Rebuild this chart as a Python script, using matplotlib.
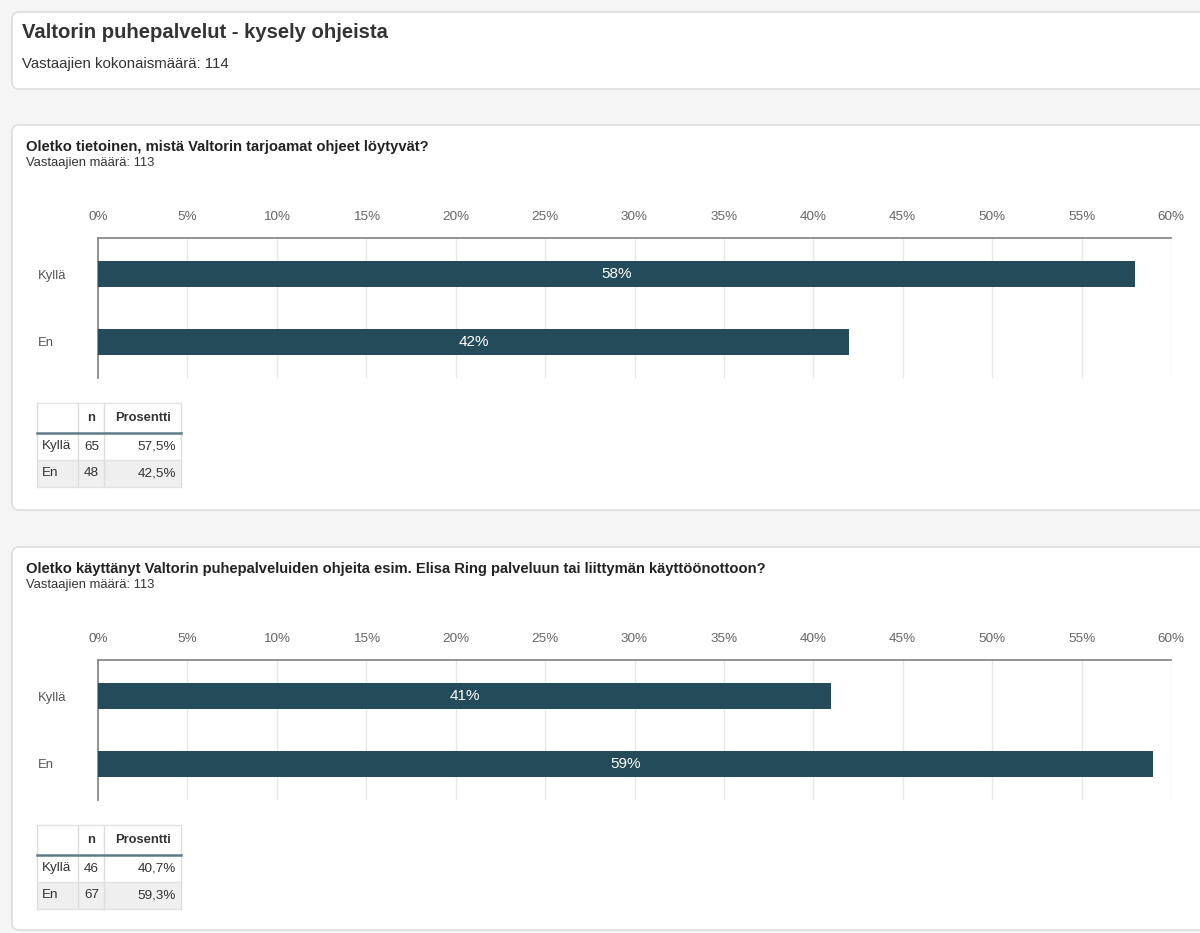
"""Survey result panels: Valtorin puhepalvelut - kysely ohjeista."""

import matplotlib

matplotlib.use("Agg")
import matplotlib.pyplot as plt
from matplotlib.patches import FancyBboxPatch, Rectangle

plt.rcParams["font.family"] = ["Liberation Sans", "DejaVu Sans"]

# ---- data -------------------------------------------------------------
SURVEY_TITLE = "Valtorin puhepalvelut - kysely ohjeista"
TOTAL_RESPONDENTS = 114

QUESTIONS = [
    "Oletko tietoinen, mistä Valtorin tarjoamat ohjeet löytyvät?",
    "Oletko käyttänyt Valtorin puhepalveluiden ohjeita esim. Elisa Ring palveluun tai liittymän käyttöönottoon?",
]
RESPONDENTS = [113, 113]
CATEGORIES = ["Kyllä", "En"]
COUNTS_Q1 = [65, 48]
COUNTS_Q2 = [46, 67]
X_TICKS = [0, 5, 10, 15, 20, 25, 30, 35, 40, 45, 50, 55, 60]

# ---- style ------------------------------------------------------------
W, H = 1200, 933
PAGE_BG = "#f5f5f5"
CARD_EDGE = "#dedede"
BAR_COLOR = "#244b59"
GRID_COLOR = "#e8e8e8"
AXIS_COLOR = "#8a8a8a"
TICK_COLOR = "#666666"
TEXT_DARK = "#222222"
TEXT_MID = "#333333"

PANEL_TOPS = [125, 547]


def fx(x):
    return x / W


def fy(y):
    return 1 - y / H


def card(bg, x0, y0, x1, y1):
    bg.add_patch(
        FancyBboxPatch(
            (x0, y0), x1 - x0, y1 - y0,
            boxstyle="round,pad=0,rounding_size=7",
            facecolor="white", edgecolor=CARD_EDGE, linewidth=1.2, zorder=1,
        )
    )


def draw_table(bg, top, cats, counts):
    total = sum(counts)
    cols = [37, 78, 104, 181]
    rows = [top, top + 30, top + 57, top + 84]
    # shading of second body row
    bg.add_patch(Rectangle((cols[0], rows[2]), cols[-1] - cols[0], rows[3] - rows[2],
                           facecolor="#efefef", edgecolor="none", zorder=2))
    # cell borders
    for x in cols:
        bg.plot([x, x], [rows[0], rows[-1]], color="#dcdcdc", lw=1, zorder=3)
    for y in (rows[0], rows[2], rows[3]):
        bg.plot([cols[0], cols[-1]], [y, y], color="#e2e2e2", lw=1, zorder=3)
    bg.plot([cols[0], cols[-1]], [rows[1], rows[1]], color="#5f7c86", lw=1.8, zorder=4)

    hy = (rows[0] + rows[1]) / 2
    bg.text((cols[1] + cols[2]) / 2, hy, "n", ha="center", va="center",
            fontsize=9.3, fontweight="bold", color=TEXT_MID, zorder=5)
    bg.text((cols[2] + cols[3]) / 2, hy, "Prosentti", ha="center", va="center",
            fontsize=9.3, fontweight="bold", color=TEXT_MID, zorder=5)
    for i, (cat, n) in enumerate(zip(cats, counts)):
        cy = (rows[i + 1] + rows[i + 2]) / 2
        pct = f"{100 * n / total:.1f}%".replace(".", ",")
        bg.text(cols[0] + 5, cy, cat, ha="left", va="center", fontsize=9.7, color=TEXT_MID, zorder=5)
        bg.text(cols[1] + 6, cy, str(n), ha="left", va="center", fontsize=9.7, color=TEXT_MID, zorder=5)
        bg.text(cols[3] - 5, cy, pct, ha="right", va="center", fontsize=9.7, color=TEXT_MID, zorder=5)


def draw_panel(fig, bg, top, question, n_resp, cats, counts):
    total = sum(counts)
    pcts = [round(100 * n / total) for n in counts]

    bg.text(26, top + 22, question, ha="left", va="center", fontsize=10.6,
            fontweight="bold", color=TEXT_DARK, zorder=5)
    bg.text(26, top + 38, f"Vastaajien määrä: {n_resp}", ha="left", va="center",
            fontsize=9.4, color=TEXT_MID, zorder=5)

    ax_top, ax_bot = top + 113, top + 253
    left, right = 98, 1171
    ax = fig.add_axes([fx(left), fy(ax_bot), fx(right - left), (ax_bot - ax_top) / H])
    ax.set_facecolor("none")
    ax.set_zorder(2)

    ypos = list(range(len(cats)))
    ax.barh(ypos, pcts, height=0.38, color=BAR_COLOR, zorder=3)
    for y, p in zip(ypos, pcts):
        ax.text(p / 2, y, f"{p}%", ha="center", va="center", color="white",
                fontsize=11, zorder=4)

    ax.set_xlim(X_TICKS[0], X_TICKS[-1])
    ax.set_ylim(len(cats) - 0.47, -0.53)
    ax.set_xticks(X_TICKS)
    ax.set_xticklabels([f"{t}%" for t in X_TICKS])
    ax.xaxis.tick_top()
    ax.tick_params(axis="x", length=0, pad=10.5, labelsize=9.7, labelcolor=TICK_COLOR)
    ax.set_yticks(ypos)
    ax.set_yticklabels(cats)
    ax.tick_params(axis="y", length=0, pad=43, labelsize=9.4, labelcolor="#555555")
    for lab in ax.get_yticklabels():
        lab.set_horizontalalignment("left")
    ax.grid(axis="x", color=GRID_COLOR, linewidth=1, zorder=0)
    ax.set_axisbelow(True)
    for side in ("right", "bottom"):
        ax.spines[side].set_visible(False)
    for side in ("top", "left"):
        ax.spines[side].set_color(AXIS_COLOR)
        ax.spines[side].set_linewidth(1.3)

    draw_table(bg, top + 278, cats, counts)


fig = plt.figure(figsize=(W / 100, H / 100), dpi=100)
fig.patch.set_facecolor(PAGE_BG)
bg = fig.add_axes([0, 0, 1, 1])
bg.set_xlim(0, W)
bg.set_ylim(H, 0)
bg.axis("off")
bg.set_zorder(0)

card(bg, 12, 12, 1215, 89)
card(bg, 12, PANEL_TOPS[0], 1215, 510)
card(bg, 12, PANEL_TOPS[1], 1215, 930)

bg.text(22, 33, SURVEY_TITLE, ha="left", va="center", fontsize=14.6,
        fontweight="bold", color=TEXT_MID, zorder=5)
bg.text(22, 64, f"Vastaajien kokonaismäärä: {TOTAL_RESPONDENTS}", ha="left",
        va="center", fontsize=10.8, color=TEXT_MID, zorder=5)

for top, q, n_resp, counts in zip(PANEL_TOPS, QUESTIONS, RESPONDENTS, [COUNTS_Q1, COUNTS_Q2]):
    draw_panel(fig, bg, top, q, n_resp, CATEGORIES, counts)

fig.savefig("out.png", dpi=100, facecolor=fig.get_facecolor())
